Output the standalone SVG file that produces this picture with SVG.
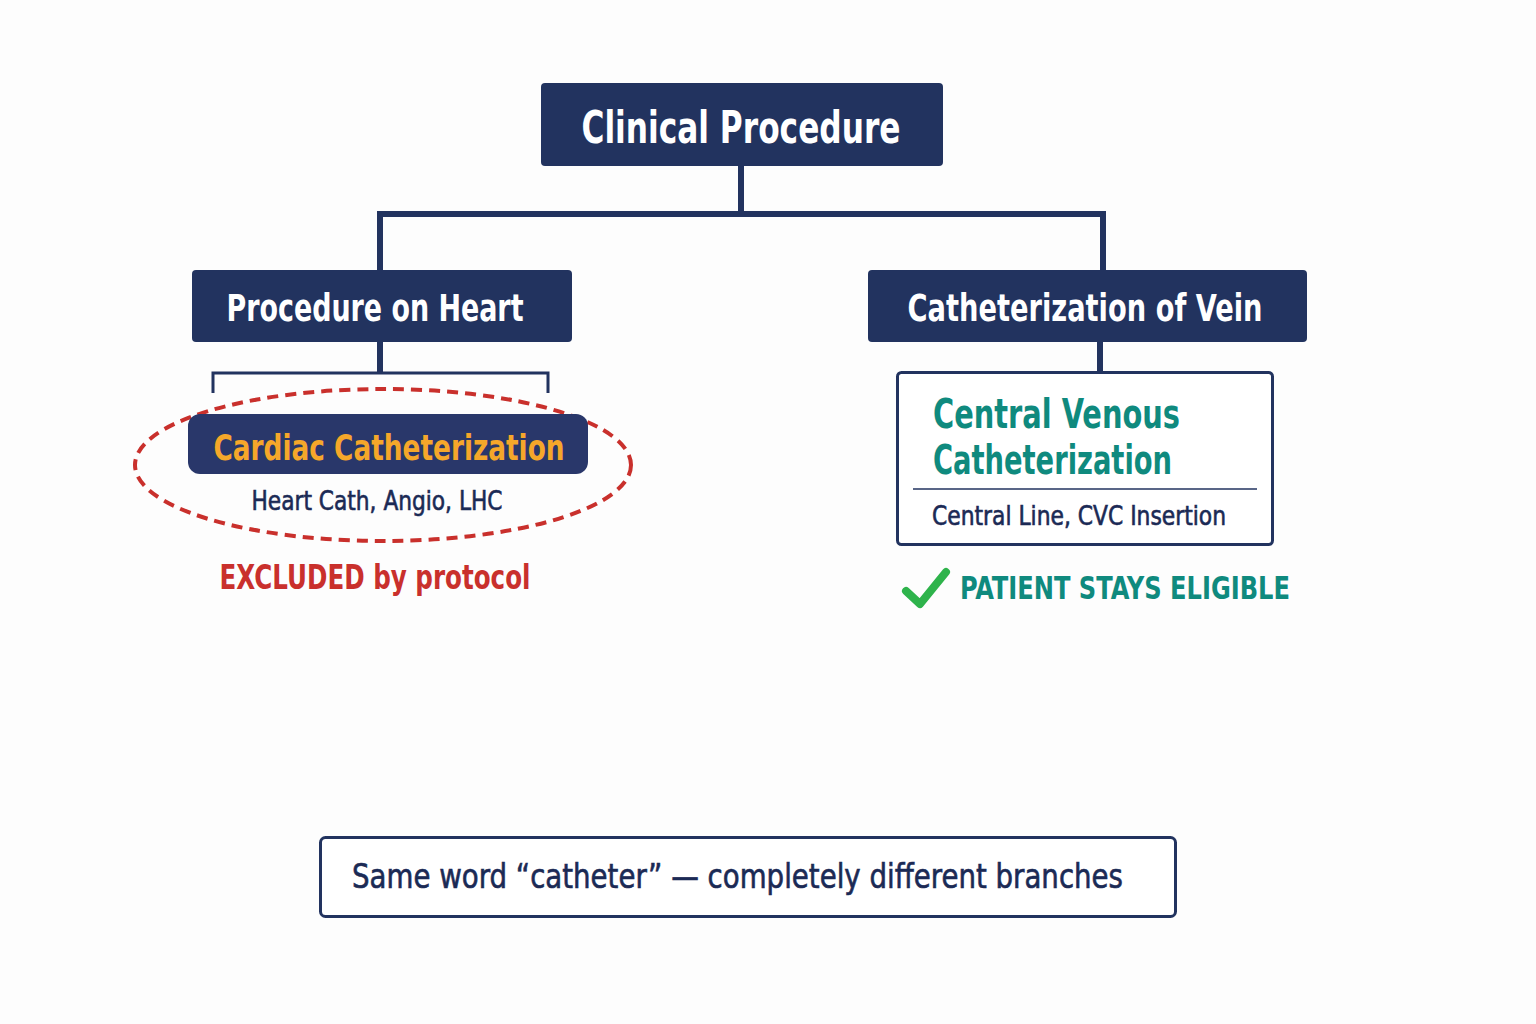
<svg xmlns="http://www.w3.org/2000/svg" width="1536" height="1024" viewBox="0 0 1536 1024">
<style>
text{font-family:"Liberation Sans Narrow","DejaVu Sans Condensed","Liberation Sans",sans-serif;}
.hdr{fill:#22335f;}
.ht{fill:#ffffff;font-weight:bold;}
.conn{stroke:#22335f;fill:none;stroke-width:6;}
.thin{stroke:#22335f;fill:none;stroke-width:3;}
.navy{fill:#1b2a55;stroke:#1b2a55;stroke-width:0.6;}
.teal{fill:#0f8a7e;font-weight:bold;}
</style>
<rect width="1536" height="1024" fill="#fdfdfd"/>
<g id="connectors">
<path class="conn" d="M741,166 V214 M380,270 V214 H1103 V270"/>
<path class="conn" d="M380,342 V373 M1100,342 V372"/>
<path class="thin" d="M213,393 V373 H548 V393"/>
</g>
<g id="clinical-procedure">
<rect class="hdr" x="541" y="83" width="402" height="83" rx="4"/>
<text class="ht" x="741" y="143" font-size="44" text-anchor="middle" textLength="319" lengthAdjust="spacingAndGlyphs">Clinical Procedure</text>
</g>
<g id="procedure-on-heart">
<rect class="hdr" x="192" y="270" width="380" height="72" rx="4"/>
<text class="ht" x="375" y="321" font-size="37" text-anchor="middle" textLength="297" lengthAdjust="spacingAndGlyphs">Procedure on Heart</text>
</g>
<g id="catheterization-of-vein">
<rect class="hdr" x="868" y="270" width="439" height="72" rx="4"/>
<text class="ht" x="1085" y="321" font-size="37" text-anchor="middle" textLength="355" lengthAdjust="spacingAndGlyphs">Catheterization of Vein</text>
</g>
<g id="cardiac-catheterization">
<ellipse cx="383" cy="465" rx="248" ry="76" fill="none" stroke="#c9302c" stroke-width="4" stroke-dasharray="11 7"/>
<rect x="188" y="414" width="400" height="60" rx="12" fill="#29376a"/>
<text x="389" y="460" font-size="36" font-weight="bold" fill="#f5a72a" text-anchor="middle" textLength="351" lengthAdjust="spacingAndGlyphs">Cardiac Catheterization</text>
<text class="navy" x="377" y="510" font-size="27" text-anchor="middle" textLength="251" lengthAdjust="spacingAndGlyphs">Heart Cath, Angio, LHC</text>
<text x="375" y="589" font-size="34" font-weight="bold" fill="#c9302c" text-anchor="middle" textLength="311" lengthAdjust="spacingAndGlyphs">EXCLUDED by protocol</text>
</g>
<g id="central-venous-catheterization">
<rect x="897.5" y="372.5" width="375" height="172" rx="4" fill="#ffffff" stroke="#22335f" stroke-width="3"/>
<text class="teal" x="933" y="428" font-size="40" textLength="247" lengthAdjust="spacingAndGlyphs">Central Venous</text>
<text class="teal" x="933" y="474" font-size="40" textLength="239" lengthAdjust="spacingAndGlyphs">Catheterization</text>
<line x1="913" y1="489" x2="1257" y2="489" stroke="#22335f" stroke-width="1.5"/>
<text class="navy" x="932" y="525" font-size="27" textLength="294" lengthAdjust="spacingAndGlyphs">Central Line, CVC Insertion</text>
</g>
<g id="patient-eligible">
<path d="M906,591 L920,604 L946,572" fill="none" stroke="#2eb34b" stroke-width="8" stroke-linecap="round" stroke-linejoin="round"/>
<text class="teal" x="960" y="599" font-size="32" textLength="330" lengthAdjust="spacingAndGlyphs">PATIENT STAYS ELIGIBLE</text>
</g>
<g id="note">
<rect x="320.5" y="837.5" width="855" height="79" rx="5" fill="#ffffff" stroke="#22335f" stroke-width="3"/>
<text class="navy" x="352" y="888" font-size="34" textLength="771" lengthAdjust="spacingAndGlyphs">Same word “catheter” — completely different branches</text>
</g>
</svg>
